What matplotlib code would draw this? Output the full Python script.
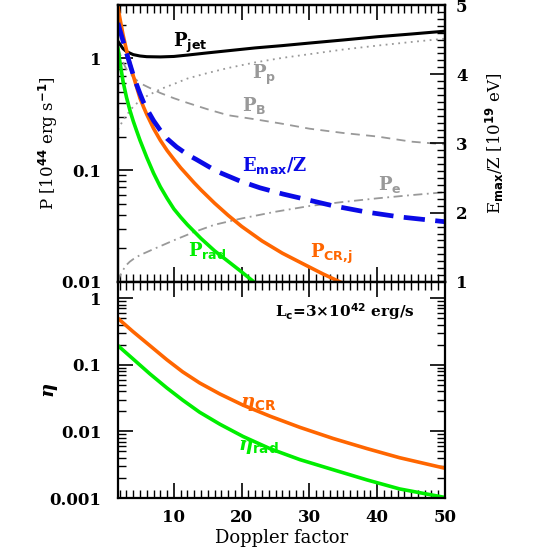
import matplotlib
matplotlib.use('Agg')
import matplotlib.pyplot as plt
from matplotlib.ticker import LogLocator, MultipleLocator, NullFormatter

plt.rcParams['font.family'] = 'DejaVu Serif'
plt.rcParams['font.weight'] = 'bold'
plt.rcParams['mathtext.fontset'] = 'custom'
plt.rcParams['mathtext.rm'] = 'DejaVu Serif:bold'
plt.rcParams['mathtext.bf'] = 'DejaVu Sans:bold'
plt.rcParams['mathtext.it'] = 'DejaVu Serif:italic:bold'

# ---- data ----
# top panel, left axis: power [1e44 erg/s] vs Doppler factor
d_jet = [1.75, 2.0, 2.5, 3.0, 4.0, 5.0, 6.0, 8.0, 10, 12, 15, 18, 22, 26, 30, 35, 40, 45, 50]
p_jet = [1.42, 1.35, 1.22, 1.15, 1.08, 1.05, 1.035, 1.03, 1.04, 1.07, 1.12, 1.17, 1.24, 1.30, 1.37, 1.46, 1.56, 1.65, 1.75]
p_p = [0.23, 0.245, 0.28, 0.31, 0.37, 0.42, 0.46, 0.53, 0.59, 0.66, 0.74, 0.82, 0.92, 1.01, 1.09, 1.20, 1.30, 1.40, 1.50]
p_b = [1.25, 1.12, 0.92, 0.80, 0.68, 0.60, 0.56, 0.49, 0.44, 0.40, 0.35, 0.31, 0.285, 0.26, 0.235, 0.215, 0.20, 0.18, 0.17]

d_e = [1.75, 2.0, 2.5, 3.0, 3.5, 4.0, 5.0, 6.0, 7.0, 8.0, 10, 13, 16, 20, 25, 30, 35, 40, 45, 50]
p_e = [0.0100, 0.0112, 0.0128, 0.0142, 0.0152, 0.0160, 0.0174, 0.0185, 0.0197, 0.0209, 0.0236, 0.0280, 0.0325,
       0.0370, 0.0425, 0.0478, 0.0520, 0.0560, 0.0598, 0.0635]

d_cr = [1.75, 2.0, 2.5, 3.0, 3.5, 4.0, 4.5, 5.0, 5.5, 6.0, 7.0, 8.0, 9.0, 10, 11, 12, 13, 14, 16, 18, 20, 23, 26, 29, 32, 35, 38]
p_crj = [2.90, 2.34, 1.62, 1.19, 0.90, 0.70, 0.555, 0.44, 0.37, 0.315, 0.236, 0.185, 0.150, 0.125, 0.105, 0.090, 0.077,
         0.0666, 0.0507, 0.0395, 0.0314, 0.0233, 0.0181, 0.0146, 0.0118, 0.0097, 0.0081]

d_rad = [1.75, 2.0, 2.5, 3.0, 3.5, 4.0, 4.5, 5.0, 6.0, 7.0, 8.0, 9.0, 10, 11, 12, 14, 16, 18, 20, 22, 24]
p_rad = [1.23, 0.96, 0.62, 0.45, 0.345, 0.275, 0.225, 0.185, 0.130, 0.094, 0.071, 0.056, 0.045, 0.038, 0.0325, 0.0245,
         0.0190, 0.0153, 0.0123, 0.0098, 0.0080]

# top panel, right axis: Emax/Z [1e19 eV]
d_emax = [1.75, 2.0, 2.5, 3.0, 3.5, 4.0, 4.5, 5.0, 5.5, 6.0, 7.0, 8.0, 9.0, 10.4, 12, 13.3, 16.3, 19.7, 22.7, 26.1,
          29.6, 33.5, 38.4, 43.3, 50]
emax_z = [4.74, 4.65, 4.48, 4.31, 4.15, 3.99, 3.85, 3.72, 3.60, 3.50, 3.33, 3.19, 3.07, 2.95, 2.84, 2.77, 2.60, 2.46,
          2.36, 2.27, 2.19, 2.10, 2.01, 1.94, 1.87]

# bottom panel: efficiencies
d_eta = [1.74, 3.95, 6.46, 8.97, 11.3, 13.8, 16.8, 20.2, 24.2, 28.6, 33.5, 38.5, 43.3, 50]
eta_cr = [0.498, 0.316, 0.194, 0.119, 0.0783, 0.0534, 0.0364, 0.0248, 0.0169, 0.0115, 0.00783, 0.00552, 0.00403, 0.00280]
eta_rad = [0.194, 0.123, 0.0731, 0.0449, 0.0295, 0.0194, 0.0128, 0.0084, 0.0055, 0.00377, 0.00266, 0.00187, 0.00137, 0.00102]

orange = '#ff6600'
green = '#00ee00'
blue = '#0a0ae6'
grey = '#999999'

fig = plt.figure(figsize=(5.5, 5.5), dpi=100)
ax1 = fig.add_axes([0.2145, 0.4873, 0.5945, 0.5036])
ax2 = fig.add_axes([0.2145, 0.0945, 0.5945, 0.3928])

xlo, xhi = 1.75, 50

# ---- top panel ----
ax1.plot(d_jet, p_jet, color='black', lw=2.2)
ax1.plot(d_jet, p_p, color=grey, lw=1.3, ls=(0, (1, 2.5)))
ax1.plot(d_jet, p_b, color=grey, lw=1.3, ls=(0, (5, 3.5)))
ax1.plot(d_e, p_e, color=grey, lw=1.3, ls=(0, (5, 2.5, 1, 2.5)))
ax1.plot(d_cr, p_crj, color=orange, lw=2.6)
ax1.plot(d_rad, p_rad, color=green, lw=2.6)
ax1.set_yscale('log')
ax1.set_xlim(xlo, xhi)
ax1.set_ylim(0.01, 3.0)
ax1.set_ylabel(r'P [10$^{\mathbf{44}}$ erg s$^{\mathbf{-1}}$]', fontsize=12)
ax1.yaxis.set_label_coords(-0.178, 0.5)
ax1.set_yticks([0.01, 0.1, 1])
ax1.set_yticklabels(['0.01', '0.1', '1'])
ax1.yaxis.set_minor_locator(LogLocator(base=10, subs=range(2, 10)))
ax1.yaxis.set_minor_formatter(NullFormatter())
ax1.xaxis.set_major_locator(MultipleLocator(10))
ax1.xaxis.set_minor_locator(MultipleLocator(1))
ax1.tick_params(axis='x', which='both', direction='in', top=True, bottom=True, labelbottom=False)
ax1.tick_params(axis='y', which='both', direction='in', left=True, right=False)
ax1.tick_params(which='major', length=11, width=1.2, labelsize=12, pad=12)
ax1.tick_params(which='minor', length=5.5, width=1.0)

axr = ax1.twinx()
axr.plot(d_emax, emax_z, color=blue, lw=3.4, ls=(0, (4.5, 2.2)))
axr.set_ylim(1, 5)
axr.set_xlim(xlo, xhi)
axr.yaxis.set_major_locator(MultipleLocator(1))
axr.yaxis.set_minor_locator(MultipleLocator(0.1))
axr.tick_params(axis='y', which='both', direction='in')
axr.tick_params(which='major', length=11, width=1.2, labelsize=12, pad=8)
axr.tick_params(which='minor', length=5.5, width=1.0)
axr.set_ylabel(r'E$_{\mathbf{max}}$/Z [10$^{\mathbf{19}}$ eV]', fontsize=12, labelpad=12)

ax1.text(9.9, 1.27, r'P$_{\mathbf{jet}}$', color='black', fontsize=13)
ax1.text(21.6, 0.65, r'P$_{\mathbf{p}}$', color=grey, fontsize=13)
ax1.text(20.0, 0.335, r'P$_{\mathbf{B}}$', color=grey, fontsize=13)
ax1.text(40.1, 0.067, r'P$_{\mathbf{e}}$', color=grey, fontsize=13)
ax1.text(12.1, 0.017, r'P$_{\mathbf{rad}}$', color=green, fontsize=13)
ax1.text(30.1, 0.0163, r'P$_{\mathbf{CR{,}j}}$', color=orange, fontsize=13)
axr.text(20.0, 2.6, r'E$_{\mathbf{max}}$/Z', color=blue, fontsize=13)

# ---- bottom panel ----
ax2.plot(d_eta, eta_cr, color=orange, lw=2.6)
ax2.plot(d_eta, eta_rad, color=green, lw=2.6)
ax2.set_yscale('log')
ax2.set_xlim(xlo, xhi)
ax2.set_ylim(0.001, 1.75)
ax2.set_yticks([0.001, 0.01, 0.1, 1])
ax2.set_yticklabels(['0.001', '0.01', '0.1', '1'])
ax2.yaxis.set_minor_locator(LogLocator(base=10, subs=range(2, 10)))
ax2.yaxis.set_minor_formatter(NullFormatter())
ax2.xaxis.set_major_locator(MultipleLocator(10))
ax2.xaxis.set_minor_locator(MultipleLocator(1))
ax2.tick_params(which='both', direction='in', top=True, bottom=True, left=True, right=True)
ax2.tick_params(which='major', length=11, width=1.2, labelsize=12)
ax2.tick_params(axis='y', which='major', pad=12)
ax2.tick_params(axis='x', which='major', pad=8)
ax2.tick_params(which='minor', length=5.5, width=1.0)
ax2.set_xlabel('Doppler factor', fontsize=13, labelpad=2)
ax2.set_ylabel(r'$\eta$', fontsize=14)
ax2.yaxis.set_label_coords(-0.178, 0.5)

ax2.text(24.9, 0.53, r'L$_{\mathbf{c}}$=3$\times$10$^{\mathbf{42}}$ erg/s', fontsize=11)
ax2.text(19.7, 0.023, r'$\eta_{\mathbf{CR}}$', color=orange, fontsize=14)
ax2.text(19.5, 0.0053, r'$\eta_{\mathbf{rad}}$', color=green, fontsize=14)

for a in (ax1, ax2, axr):
    for s in a.spines.values():
        s.set_linewidth(1.6)

fig.savefig('out.png', dpi=100)
